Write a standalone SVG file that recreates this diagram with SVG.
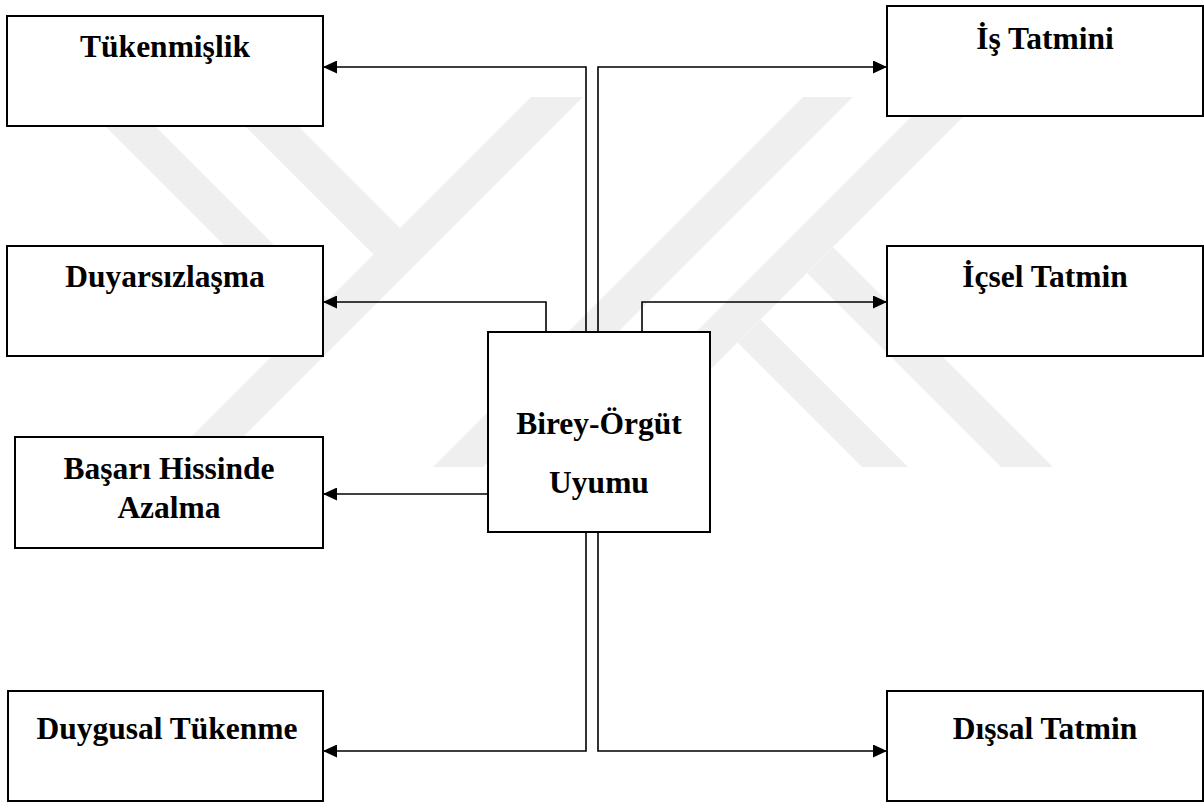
<svg xmlns="http://www.w3.org/2000/svg" width="1204" height="804" viewBox="0 0 1204 804">
<style>
.box{fill:#fff;stroke:#000;stroke-width:2}
.lbl{font-family:"Liberation Serif","Times New Roman",serif;font-weight:bold;font-size:31.5px;fill:#000;text-anchor:middle}
.wm{fill:#efefef}
.conn{fill:none;stroke:#000;stroke-width:1.6}
</style>
<defs>
<marker id="ah" markerWidth="14" markerHeight="13" refX="14" refY="6.5" orient="auto" markerUnits="userSpaceOnUse"><path d="M0,0 L14,6.5 L0,13 Z" fill="#000"/></marker>
</defs>
<rect width="1204" height="804" fill="#fff"/>
<g id="watermark">
<polygon class="wm" points="76,97 126,97 328.5,299.5 303.5,324.5"/>
<polygon class="wm" points="216,97 269,97 400,228 373.5,254.5"/>
<polygon class="wm" points="531,97 583,97 213,467 161,467"/>
<polygon class="wm" points="803,97 853,97 483,467 433,467"/>
<polygon class="wm" points="931,97 983,97 613,467 561,467"/>
<polygon class="wm" points="807,273 833,247 1053,467 1001,467"/>
<polygon class="wm" points="737.5,342.5 760.5,319.5 908,467 862,467"/>
</g>
<g id="connectors">
<path class="conn" d="M586,332 V67 H323" marker-end="url(#ah)"/>
<path class="conn" d="M598,332 V67 H887" marker-end="url(#ah)"/>
<path class="conn" d="M546,332 V302 H323" marker-end="url(#ah)"/>
<path class="conn" d="M642,332 V302 H887" marker-end="url(#ah)"/>
<path class="conn" d="M488,494 H323" marker-end="url(#ah)"/>
<path class="conn" d="M586,532 V751 H323" marker-end="url(#ah)"/>
<path class="conn" d="M598,532 V751 H887" marker-end="url(#ah)"/>
</g>
<g id="n-tukenmislik"><rect class="box" x="7" y="16" width="316" height="110"/><text class="lbl" x="165" y="57">Tükenmişlik</text></g>
<g id="n-is-tatmini"><rect class="box" x="887" y="6" width="316" height="110"/><text class="lbl" x="1045" y="49">İş Tatmini</text></g>
<g id="n-duyarsizlasma"><rect class="box" x="7" y="246" width="316" height="110"/><text class="lbl" x="165" y="287">Duyarsızlaşma</text></g>
<g id="n-icsel-tatmin"><rect class="box" x="887" y="246" width="316" height="110"/><text class="lbl" x="1045" y="287">İçsel Tatmin</text></g>
<g id="n-basari"><rect class="box" x="15" y="437" width="308" height="111"/><text class="lbl" x="169" y="479">Başarı Hissinde</text><text class="lbl" x="169" y="518">Azalma</text></g>
<g id="n-birey-orgut"><rect class="box" x="488" y="332" width="222" height="200"/><text class="lbl" x="599" y="434">Birey-Örgüt</text><text class="lbl" x="599" y="493">Uyumu</text></g>
<g id="n-duygusal"><rect class="box" x="8" y="691" width="315" height="110"/><text class="lbl" x="167" y="739">Duygusal Tükenme</text></g>
<g id="n-dissal"><rect class="box" x="887" y="691" width="316" height="110"/><text class="lbl" x="1045" y="739">Dışsal Tatmin</text></g>
</svg>
